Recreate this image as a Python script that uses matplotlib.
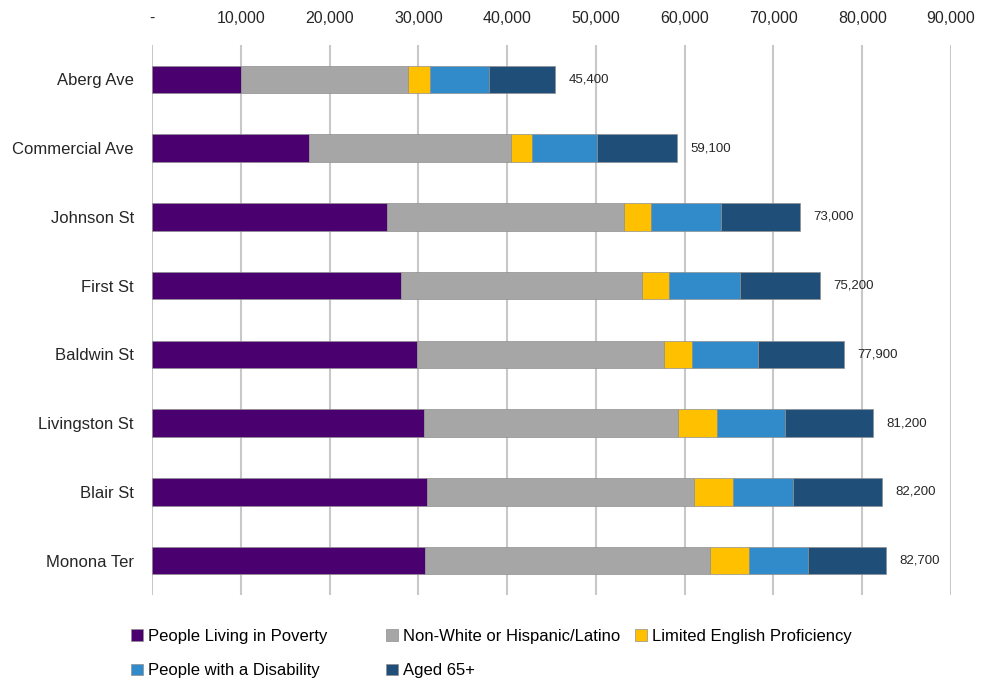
import numpy as np
import matplotlib.pyplot as plt
from matplotlib.ticker import FuncFormatter

plt.rcParams['font.family'] = ['Liberation Sans', 'DejaVu Sans']

streets = ['Aberg Ave', 'Commercial Ave', 'Johnson St', 'First St',
           'Baldwin St', 'Livingston St', 'Blair St', 'Monona Ter']

poverty = [10000, 17700, 26500, 28000, 29800, 30600, 31000, 30800]
nonwhite = [18800, 22700, 26700, 27200, 27900, 28600, 30000, 32000]
limited_english = [2500, 2450, 3000, 3000, 3100, 4400, 4400, 4400]
disability = [6700, 7300, 7900, 8000, 7500, 7700, 6800, 6700]
aged65 = [7400, 8950, 8900, 9000, 9600, 9900, 10000, 8800]
totals = [45400, 59100, 73000, 75200, 77900, 81200, 82200, 82700]

series = [
    ('People Living in Poverty', poverty, '#4b0070'),
    ('Non-White or Hispanic/Latino', nonwhite, '#a6a6a6'),
    ('Limited English Proficiency', limited_english, '#ffc000'),
    ('People with a Disability', disability, '#318ac9'),
    ('Aged 65+', aged65, '#1f4e79'),
]

fig = plt.figure(figsize=(9.81, 6.84), dpi=100)
ax = fig.add_axes([152 / 981, 1 - 595 / 684, (951 - 152) / 981, (595 - 45) / 684])

y = np.arange(len(streets))
left = np.zeros(len(streets))
handles = []
for name, vals, col in series:
    h = ax.barh(y, vals, left=left, height=0.4, color=col, label=name,
                edgecolor='#8f8f8f', linewidth=0.5, zorder=3)
    handles.append(h)
    left = left + np.array(vals)

for i, t in enumerate(totals):
    ax.text(left[i] + 1500, y[i], f'{t:,}', va='center', ha='left',
            fontsize=9.5, color='#262626')

ax.set_xlim(0, 90000)
ax.set_ylim(len(streets) - 0.5, -0.5)
ax.set_yticks(y)
ax.set_yticklabels(streets, fontsize=12, color='#262626')
ax.set_xticks(np.arange(0, 90001, 10000))
ax.xaxis.set_major_formatter(FuncFormatter(lambda v, p: '-' if v == 0 else f'{int(v):,}'))
ax.xaxis.tick_top()
ax.tick_params(axis='x', labelsize=11.5, colors='#262626', length=0, pad=14)
ax.tick_params(axis='y', length=0, pad=13)
ax.grid(axis='x', color='#c8c8c8', linewidth=1.5, zorder=0)
for s in ax.spines.values():
    s.set_visible(False)

# legend columns placed like the Excel layout
columns = [([0, 3], 131), ([1, 4], 386), ([2], 635)]
for idx, xpos in columns:
    fig.legend([handles[i] for i in idx], [series[i][0] for i in idx],
               loc='upper left', bbox_to_anchor=(xpos / 981, 1 - 629 / 684),
               frameon=False, fontsize=12, handlelength=0.7,
               handleheight=0.7, handletextpad=0.3, labelspacing=1.15,
               borderaxespad=0, borderpad=0)

fig.savefig('out.png', dpi=100)
